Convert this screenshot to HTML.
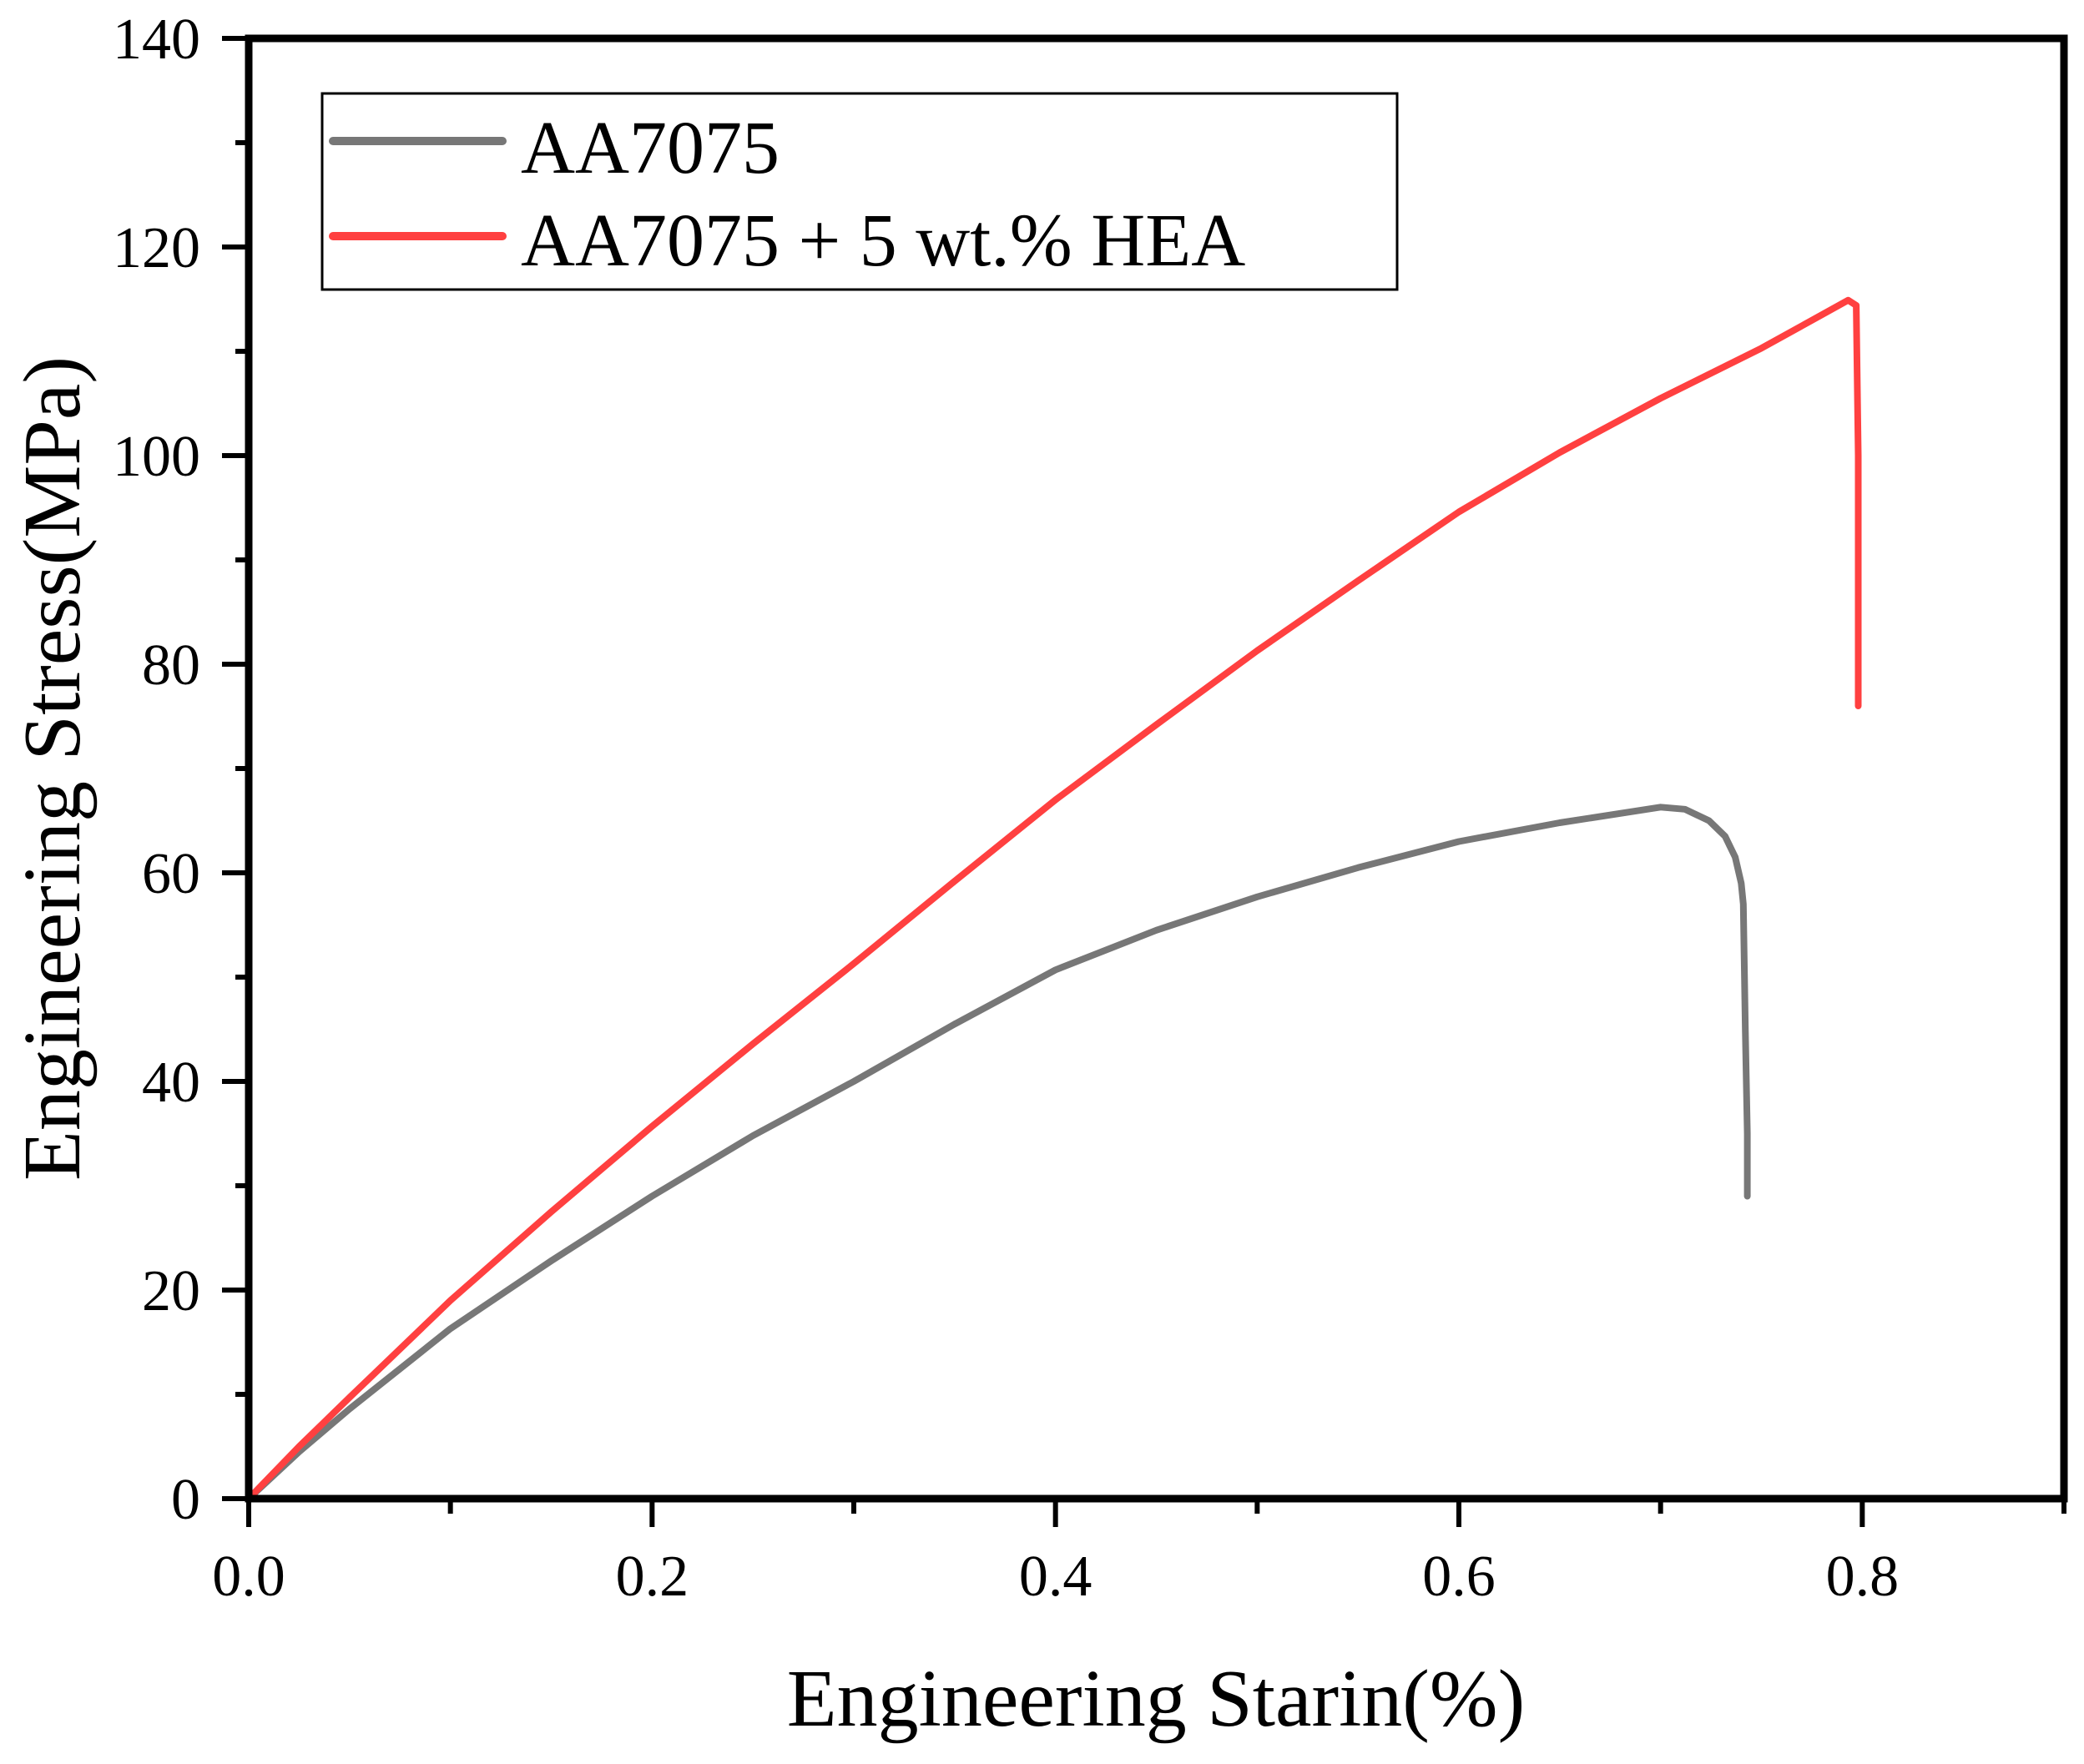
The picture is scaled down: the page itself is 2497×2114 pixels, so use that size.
<!DOCTYPE html>
<html><head><meta charset="utf-8"><style>
html,body{margin:0;padding:0;background:#fff;}
svg text{font-family:"Liberation Serif",serif;fill:#000;}
</style></head><body>
<svg id="chart" width="2497" height="2109" viewBox="0 0 2497 2109" xmlns="http://www.w3.org/2000/svg">
<rect width="2497" height="2109" fill="#fff"/>
<g id="marks"></g>
<g id="axes"></g>
<text x="1385" y="2068" font-size="98" text-anchor="middle">Engineering Starin(%)</text>
<text transform="translate(95,921) rotate(-90)" font-size="98" text-anchor="middle">Engineering Stress(MPa)</text>
<g>
<rect x="386" y="112" width="1288" height="235" fill="#fff" stroke="#000" stroke-width="3"/>
<line x1="399" y1="169" x2="602" y2="169" stroke="#777" stroke-width="10" stroke-linecap="round"/>
<text x="624" y="207" font-size="90">AA7075</text>
<line x1="399" y1="283" x2="602" y2="283" stroke="#ff4040" stroke-width="10" stroke-linecap="round"/>
<text x="624" y="318" font-size="90">AA7075 + 5 wt.% HEA</text>
</g>
</svg>
<script>
const xTicks = [0.0, 0.2, 0.4, 0.6, 0.8];
const xTickLabels = ["0.0", "0.2", "0.4", "0.6", "0.8"];
const yTicks = [0, 20, 40, 60, 80, 100, 120, 140];
const yTickLabels = ["0", "20", "40", "60", "80", "100", "120", "140"];
const grayStrain = [0, 0.025, 0.05, 0.1, 0.15, 0.2, 0.25, 0.3, 0.35, 0.4, 0.45, 0.5, 0.55, 0.6, 0.65, 0.7, 0.712, 0.724, 0.732, 0.737, 0.74, 0.741, 0.742, 0.743, 0.743];
const grayStress = [0, 4.5, 8.6, 16.3, 22.8, 29, 34.8, 40, 45.5, 50.7, 54.5, 57.7, 60.5, 63, 64.8, 66.3, 66.1, 65, 63.5, 61.5, 59, 57, 45, 35, 29];
const redStrain = [0, 0.025, 0.05, 0.1, 0.15, 0.2, 0.25, 0.3, 0.35, 0.4, 0.45, 0.5, 0.55, 0.6, 0.65, 0.7, 0.75, 0.793, 0.797, 0.798, 0.798];
const redStress = [0, 5, 9.7, 19, 27.5, 35.7, 43.6, 51.3, 59.2, 67, 74.2, 81.3, 88, 94.6, 100.3, 105.5, 110.3, 114.9, 114.4, 100, 76];

const X0 = 298, X1 = 2473, XMAX = 0.9;
const Y0 = 1796, Y1 = 46, YMAX = 140;
function xs(v){ return X0 + (v / XMAX) * (X1 - X0); }
function ys(v){ return Y0 - (v / YMAX) * (Y0 - Y1); }
const NS = "http://www.w3.org/2000/svg";
const marks = document.getElementById('marks');
const axes = document.getElementById('axes');
function mk(tag, attrs, parent){ const e = document.createElementNS(NS, tag); for (const k in attrs) e.setAttribute(k, attrs[k]); parent.appendChild(e); return e; }

function series(xsArr, ysArr, color, name){
  let d = '';
  for (let i = 0; i < xsArr.length; i++) d += (i ? 'L' : 'M') + xs(xsArr[i]).toFixed(1) + ',' + ys(ysArr[i]).toFixed(1);
  const p = mk('path', {d: d, fill: 'none', stroke: color, 'stroke-width': 8, 'stroke-linejoin': 'round', 'stroke-linecap': 'round'}, marks);
  
  
}
series(grayStrain, grayStress, '#777777', 'aa7075-curve');
series(redStrain, redStress, '#ff4040', 'aa7075-hea-curve');

const frame = mk('rect', {x: X0, y: Y1, width: X1 - X0, height: Y0 - Y1, fill: 'none', stroke: '#000', 'stroke-width': 9}, axes);



for (let v = 0; v <= 0.9001; v += 0.1) {
  const major = Math.abs(Math.round(v * 10) % 2) === 0;
  const t = mk('line', {x1: xs(v), y1: Y0, x2: xs(v), y2: Y0 + (major ? 34 : 18), stroke: '#000', 'stroke-width': 6}, axes);
  
  
}
xTicks.forEach((v, i) => {
  const t = mk('text', {x: xs(v), y: 1912, 'font-size': 70, 'text-anchor': 'middle'}, axes);
  t.textContent = xTickLabels[i];
  
  
});
for (let v = 0; v <= 140; v += 10) {
  const major = v % 20 === 0;
  const t = mk('line', {x1: X0, y1: ys(v), x2: X0 - (major ? 32 : 16), y2: ys(v), stroke: '#000', 'stroke-width': 6}, axes);
  
  
}
yTicks.forEach((v, i) => {
  const t = mk('text', {x: 240, y: ys(v) + 24, 'font-size': 70, 'text-anchor': 'end'}, axes);
  t.textContent = yTickLabels[i];
  
  
});
</script>
</body></html>
